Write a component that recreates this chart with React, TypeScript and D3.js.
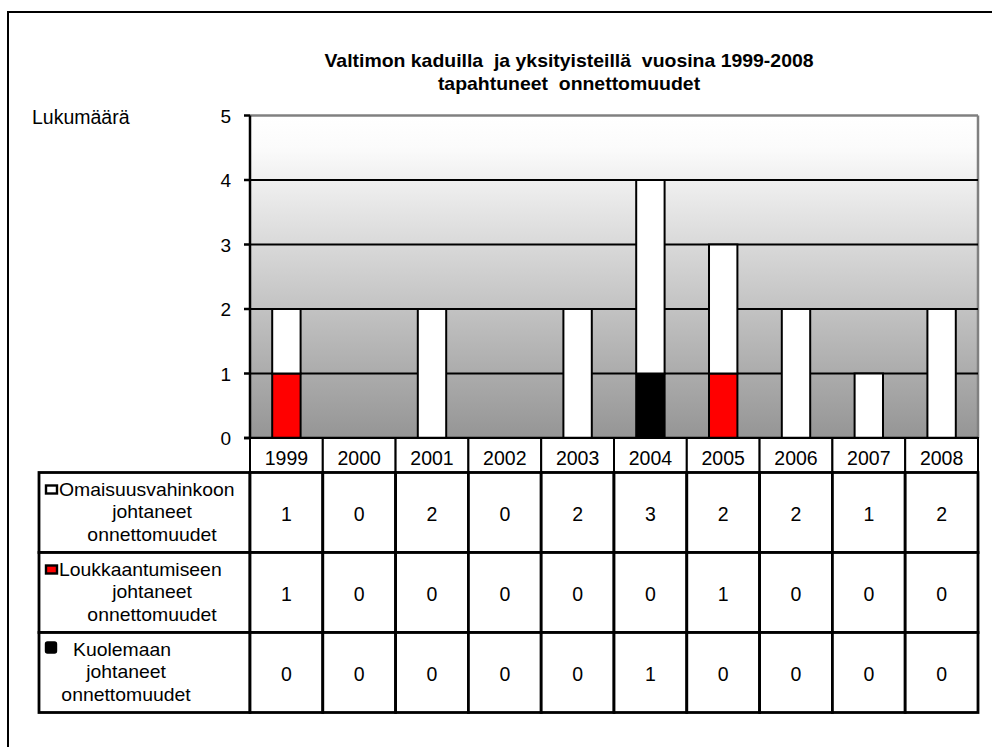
import React from "react";
import * as d3 from "d3";

const years = ["1999", "2000", "2001", "2002", "2003", "2004", "2005", "2006", "2007", "2008"];
const omaisuus = [1, 0, 2, 0, 2, 3, 2, 2, 1, 2];
const loukkaantumis = [1, 0, 0, 0, 0, 0, 1, 0, 0, 0];
const kuolema = [0, 0, 0, 0, 0, 1, 0, 0, 0, 0];
const yTicks = [0, 1, 2, 3, 4, 5];
const titleLines = ["Valtimon kaduilla  ja yksityisteillä  vuosina 1999-2008", "tapahtuneet  onnettomuudet"];
const yAxisLabel = "Lukumäärä";

const seriesInfo = [
  { key: "omaisuus", values: omaisuus, color: "#ffffff", lines: ["Omaisuusvahinkoon", "johtaneet", "onnettomuudet"] },
  { key: "louk", values: loukkaantumis, color: "#ff0000", lines: ["Loukkaantumiseen", "johtaneet", "onnettomuudet"] },
  { key: "kuol", values: kuolema, color: "#000000", lines: ["Kuolemaan", "johtaneet", "onnettomuudet"] },
];

const FONT = "'Liberation Sans', Arial, Helvetica, sans-serif";

function T(props: { x: number; y: number; size: number; anchor?: string; bold?: boolean; sx?: number; children: any }) {
  const { x, y, size, anchor = "start", bold = false, sx = 1, children } = props;
  return (
    <text transform={`translate(${x},${y}) scale(${sx},1)`} fontSize={size} fontWeight={bold ? "bold" : "normal"}
      textAnchor={anchor} fill="#000" style={{ whiteSpace: "pre" }}>
      {children}
    </text>
  );
}

export default function App() {
  const W = 992, H = 747;
  const left = 250, right = 978, top = 115.5, bottom = 438;
  const x = d3.scaleBand<string>().domain(years).range([left, right]).paddingInner(0).paddingOuter(0);
  const y = d3.scaleLinear().domain([0, 5]).range([bottom, top]);
  const bw = x.bandwidth() * 0.39;

  const stackData = years.map((yr, i) => ({ year: yr, kuol: kuolema[i], louk: loukkaantumis[i], omaisuus: omaisuus[i] }));
  const stack = d3.stack<any>().keys(["kuol", "louk", "omaisuus"])(stackData);
  const colorOf: Record<string, string> = { kuol: "#000000", louk: "#ff0000", omaisuus: "#ffffff" };

  const headerTop = bottom, headerBottom = 472.5;
  const rowH = 80;
  const tableLeft = 39;
  const rowsTop = headerBottom;
  const fs = 19;
  const lineGap = 23;
  const firstX = [59, 59, 73];
  const centerX = [152, 152, 126];

  return (
    <svg width={W} height={H} style={{ position: "absolute", left: 0, top: 0, fontFamily: FONT }}>
      <defs>
        <linearGradient id="bg" x1="0" y1="0" x2="0" y2="1">
          <stop offset="0" stopColor="#ffffff" />
          <stop offset="0.1" stopColor="#fbfbfb" />
          <stop offset="1" stopColor="#959595" />
        </linearGradient>
      </defs>
      <rect x={0} y={0} width={W} height={H} fill="#ffffff" />
      <rect x={8} y={12} width={W + 10} height={H + 10} fill="none" stroke="#000" strokeWidth={2} />

      {titleLines.map((t, i) => (
        <T key={i} x={569} y={66.5 + i * 23} size={18} bold anchor="middle" sx={1.08}>{t}</T>
      ))}
      <T x={32} y={123.5} size={19.5}>{yAxisLabel}</T>

      <rect x={left} y={top} width={right - left} height={bottom - top} fill="url(#bg)" />
      <line x1={left} x2={right} y1={top} y2={top} stroke="#808080" strokeWidth={2.5} />
      <line x1={right} x2={right} y1={top} y2={bottom} stroke="#808080" strokeWidth={2.5} />
      {yTicks.filter((t) => t > 0 && t < 5).map((t) => (
        <line key={t} x1={left} x2={right} y1={y(t)} y2={y(t)} stroke="#000" strokeWidth={2.2} />
      ))}

      {stack.map((s) => (
        <g key={s.key}>
          {s.map((d, i) => {
            const h = y(d[0]) - y(d[1]);
            if (h <= 0) return null;
            return (
              <rect key={i} x={(x(years[i]) as number) + (x.bandwidth() - bw) / 2} y={y(d[1])} width={bw} height={h}
                fill={colorOf[s.key]} stroke="#000" strokeWidth={2} />
            );
          })}
        </g>
      ))}

      <line x1={left} x2={left} y1={top} y2={bottom} stroke="#000" strokeWidth={2.5} />
      {yTicks.map((t) => (
        <g key={t}>
          <line x1={left - 6} x2={left} y1={y(t)} y2={y(t)} stroke="#000" strokeWidth={2.5} />
          <T x={231} y={y(t) + 7} size={19} anchor="end">{t}</T>
        </g>
      ))}
      <line x1={left - 6} x2={right} y1={bottom} y2={bottom} stroke="#000" strokeWidth={2.5} />

      {years.map((yr) => (
        <g key={yr}>
          <rect x={x(yr)} y={headerTop} width={x.bandwidth()} height={headerBottom - headerTop} fill="#fff" stroke="#000" strokeWidth={2} />
          <T x={(x(yr) as number) + x.bandwidth() / 2} y={464.7} size={19.5} anchor="middle">{yr}</T>
        </g>
      ))}

      {seriesInfo.map((s, r) => {
        const ry = rowsTop + r * rowH;
        const cy = ry + rowH / 2;
        const big = r === 2;
        return (
          <g key={s.key}>
            <rect x={tableLeft} y={ry} width={left - tableLeft} height={rowH} fill="#fff" stroke="#000" strokeWidth={2.8} />
            <rect x={46} y={big ? cy - 30 : cy - 27} width={big ? 10 : 11} height={big ? 10 : 8} rx={big ? 1.5 : 0}
              fill={s.color} stroke="#000" strokeWidth={2.4} />
            <T x={firstX[r]} y={cy - 17} size={fs} sx={1.02}>{s.lines[0]}</T>
            {s.lines.slice(1).map((l, k) => (
              <T key={k} x={centerX[r]} y={cy + 5.5 + k * lineGap} size={fs} anchor="middle" sx={1.02}>{l}</T>
            ))}
            {years.map((yr, i) => (
              <g key={yr}>
                <rect x={x(yr)} y={ry} width={x.bandwidth()} height={rowH} fill="#fff" stroke="#000" strokeWidth={2.8} />
                <T x={(x(yr) as number) + x.bandwidth() / 2} y={cy + 8.3} size={19.5} anchor="middle">{s.values[i]}</T>
              </g>
            ))}
          </g>
        );
      })}
    </svg>
  );
}
